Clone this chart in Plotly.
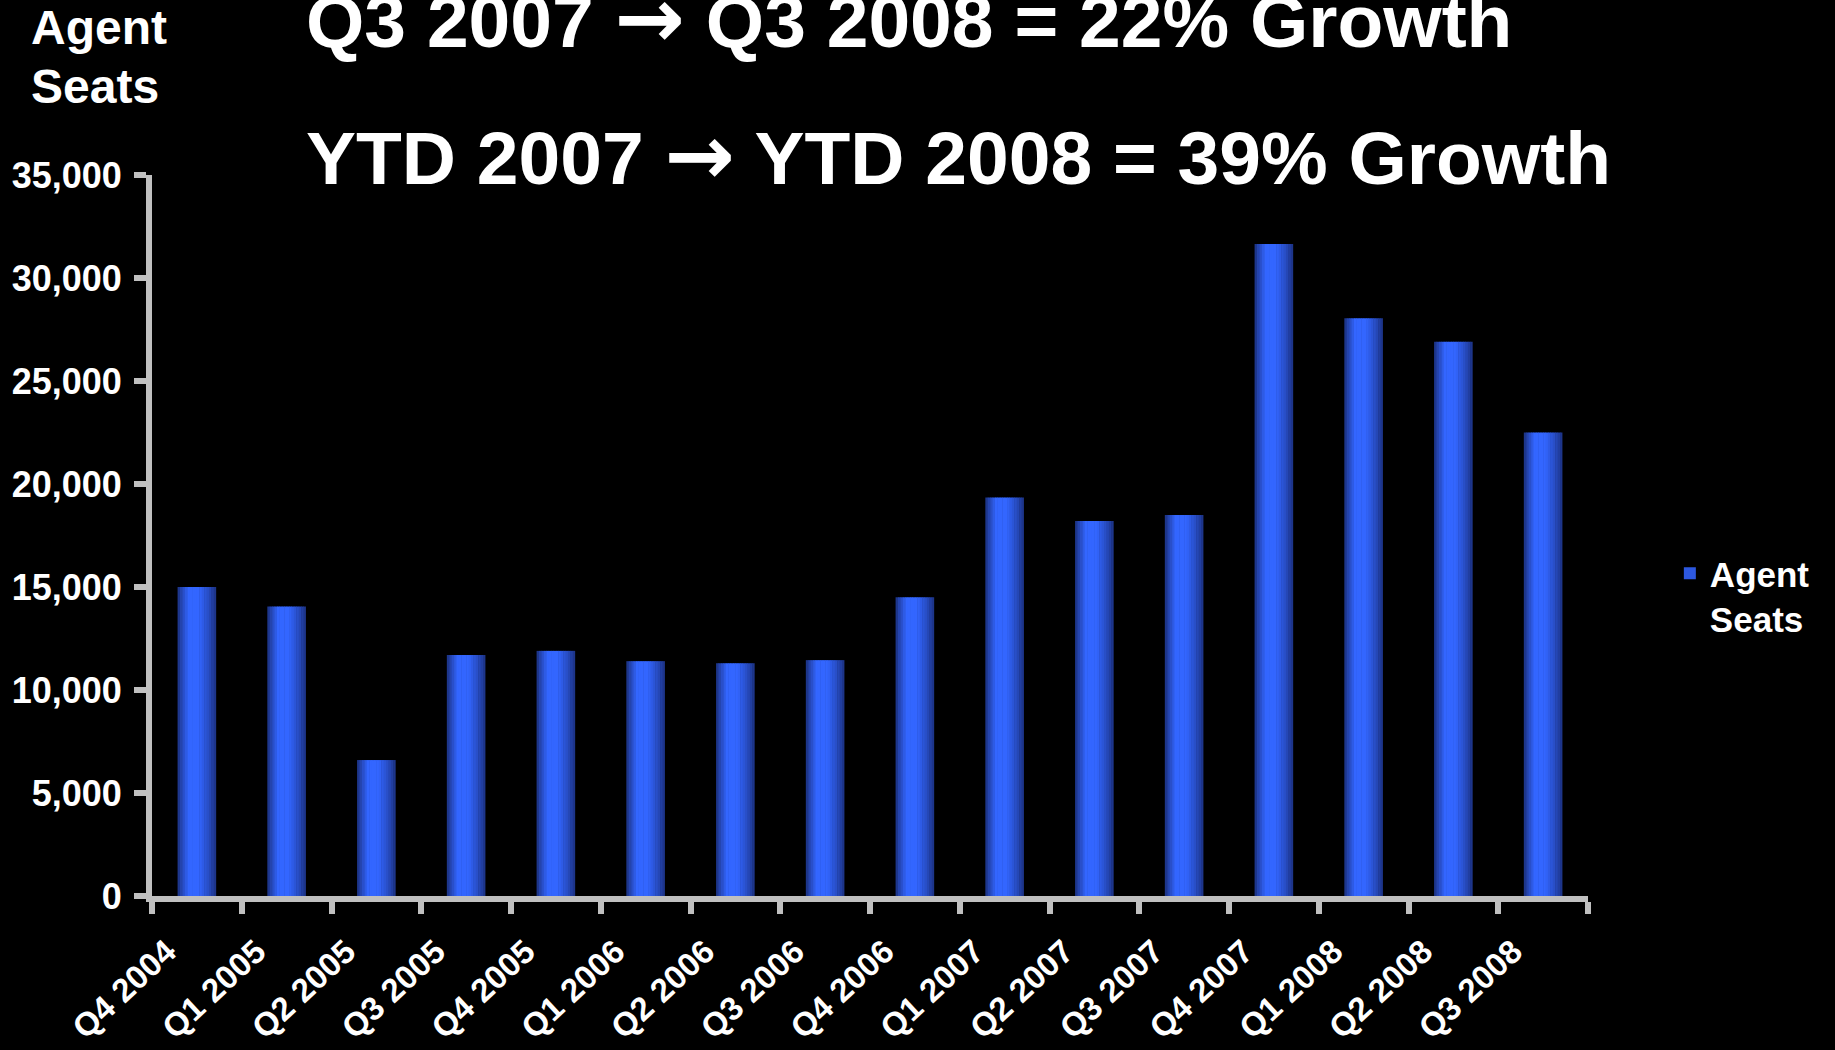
import plotly.graph_objects as go

# Quarterly agent seat counts
quarters = ["Q4 2004", "Q1 2005", "Q2 2005", "Q3 2005", "Q4 2005", "Q1 2006",
            "Q2 2006", "Q3 2006", "Q4 2006", "Q1 2007", "Q2 2007", "Q3 2007",
            "Q4 2007", "Q1 2008", "Q2 2008", "Q3 2008"]
agent_seats = [15000, 14050, 6600, 11700, 11900, 11400, 11300, 11450,
               14500, 19350, 18200, 18500, 31650, 28050, 26900, 22500]
y_ticks = [0, 5000, 10000, 15000, 20000, 25000, 30000, 35000]

ARROW = '<span style="font-family:DejaVu Sans;font-size:84px">\u2192</span>'
headline_1 = "Q3 2007 " + ARROW + " Q3 2008 = 22% Growth"
headline_2 = "YTD 2007 " + ARROW + " YTD 2008 = 39% Growth"

FONT = "Liberation Sans, Arial, sans-serif"
AXIS_GREY = "#c0c0c0"

# Cylinder-like shading: each bar is drawn as thin vertical strips,
# dark at the edges and bright slightly left of centre.
BAR_WIDTH = 0.43
N_STRIPS = 16
DARK = (26, 46, 122)
BRIGHT = (51, 102, 255)
shade_stops = [(0.0, 0.0), (0.08, 0.35), (0.28, 1.0), (0.55, 1.0),
               (0.8, 0.55), (1.0, 0.05)]


def shade(p):
    for (p0, s0), (p1, s1) in zip(shade_stops, shade_stops[1:]):
        if p0 <= p <= p1:
            return s0 + (s1 - s0) * (p - p0) / (p1 - p0)
    return shade_stops[-1][1]


fig = go.Figure()
strip_w = BAR_WIDTH / N_STRIPS
for i in range(N_STRIPS):
    p = (i + 0.5) / N_STRIPS
    t = shade(p)
    rgb = tuple(round(d + (b - d) * t) for d, b in zip(DARK, BRIGHT))
    overlap = 0.006 if i < N_STRIPS - 1 else 0.0
    fig.add_trace(go.Bar(
        x=quarters, y=agent_seats,
        width=strip_w + overlap,
        offset=-BAR_WIDTH / 2 + i * strip_w,
        marker=dict(color="rgb(%d,%d,%d)" % rgb, line=dict(width=0)),
        name="Agent Seats",
        showlegend=False,
        hoverinfo="skip" if i != N_STRIPS // 2 else None,
    ))

# Legend entry with a mid-tone swatch
fig.add_trace(go.Bar(
    x=[None], y=[None], name="Agent<br>Seats",
    marker=dict(color="#2d58e0", line=dict(width=0)),
    showlegend=True,
))

fig.update_layout(
    width=1835, height=1050,
    paper_bgcolor="black", plot_bgcolor="black",
    barmode="overlay",
    margin=dict(l=152, r=247, t=175, b=154, autoexpand=False),
    font=dict(family=FONT, color="white"),
    showlegend=True,
    legend=dict(
        xref="container", yref="container",
        x=0.910, y=0.482, xanchor="left", yanchor="top",
        bgcolor="rgba(0,0,0,0)",
        font=dict(family=FONT, size=35, color="white", weight="bold"),
        valign="top",
    ),
)

fig.update_xaxes(
    type="category",
    automargin=False,
    showgrid=False, zeroline=False,
    showline=True, linecolor=AXIS_GREY, linewidth=6,
    ticks="outside", tickson="boundaries",
    ticklen=12, tickwidth=6, tickcolor=AXIS_GREY,
    tickangle=-43,
    ticklabelstandoff=17,
    ticklabelshift=-30,
    tickfont=dict(family=FONT, size=33, color="white", weight="bold"),
)

fig.update_yaxes(
    range=[0, 35000],
    automargin=False,
    tickvals=y_ticks,
    tickformat=",",
    showgrid=False, zeroline=False,
    showline=True, linecolor=AXIS_GREY, linewidth=6,
    ticks="outside", ticklen=12, tickwidth=6, tickcolor=AXIS_GREY,
    ticklabelstandoff=5,
    tickfont=dict(family=FONT, size=36, color="white", weight="bold"),
)

# Headlines and axis caption
for text, ypos in [(headline_1, 1.218), (headline_2, 1.028)]:
    fig.add_annotation(text=text, xref="paper", yref="paper",
                       x=0.106, y=ypos, xanchor="left", yanchor="middle",
                       showarrow=False,
                       font=dict(family=FONT, size=75, color="white", weight="bold"))
for text, ypos in [("Agent", 1.2046), ("Seats", 1.1234)]:
    fig.add_annotation(text=text, xref="paper", yref="paper",
                       x=-0.0858, y=ypos, xanchor="left", yanchor="middle",
                       showarrow=False,
                       font=dict(family=FONT, size=48, color="white", weight="bold"))

fig.write_html("out.html")
